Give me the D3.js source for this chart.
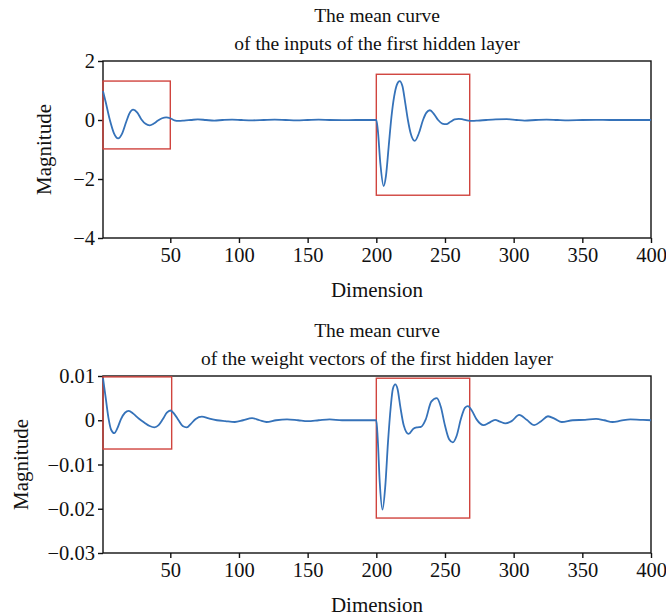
<!DOCTYPE html>
<html>
<head>
<meta charset="utf-8">
<script src="https://cdn.jsdelivr.net/npm/d3@7"></script>
<style>
  html, body { margin: 0; padding: 0; background: #fff; }
  svg text { font-family: "Liberation Serif", "DejaVu Serif", serif; fill: #111; }
</style>
</head>
<body>
<svg id="chart" width="666" height="616"></svg>
<script>
// Mean curve of the inputs of the first hidden layer (dimension, magnitude)
const inputDims = [1, 3, 6, 9, 12, 15, 18, 20, 23, 26, 29, 32, 35, 38, 41, 44, 47, 50, 53, 56, 60, 65, 70, 76, 82, 88, 95, 102, 110, 118, 126, 134, 142, 150, 158, 166, 175, 185, 195, 200,
  201, 203, 205.3, 207, 209, 211, 213, 215, 217, 219, 221, 223, 225, 228, 231, 234, 236.5, 239, 242, 245, 248, 251, 254, 257, 260, 263, 266, 270, 274, 280, 287, 295, 302, 308, 316, 324, 332, 340, 350, 360, 370, 380, 390, 400];
const inputVals = [0.98, 0.6, 0.0, -0.45, -0.62, -0.45, -0.05, 0.2, 0.35, 0.25, 0.02, -0.13, -0.18, -0.12, -0.02, 0.06, 0.09, 0.06, -0.01, -0.03, -0.02, 0.0, 0.02, 0.0, -0.02, 0.0, 0.015, 0.0, -0.01, 0.0, 0.01, 0.0, -0.01, 0.0, 0.01, 0.0, -0.005, 0.0, 0.0, 0.0,
  -0.3, -1.5, -2.24, -1.9, -0.9, 0.1, 0.8, 1.2, 1.32, 1.15, 0.6, 0.0, -0.45, -0.71, -0.45, 0.0, 0.25, 0.33, 0.2, 0.0, -0.12, -0.14, -0.06, 0.02, 0.04, 0.02, -0.01, -0.03, -0.02, 0.0, 0.02, 0.03, 0.0, -0.02, 0.0, 0.015, 0.0, -0.01, 0.0, 0.005, 0.0, 0.0, 0.0, 0.0];

// Mean curve of the weight vectors of the first hidden layer
const weightDims = [1, 3, 5, 7, 9.2, 11.5, 14, 17, 19.7, 23, 27, 31, 35, 38.4, 41.5, 44.5, 47.5, 50, 53, 56, 59, 62, 65, 68.5, 73, 78, 84, 90, 97, 103, 109.5, 115, 120, 127, 135, 143, 150, 158, 166, 175, 185, 200,
  201, 202.5, 204.5, 206.5, 208.5, 210.5, 212, 213.8, 215.5, 217.5, 220, 223.5, 227, 230, 232.5, 236, 240, 244, 247, 250, 253, 255.7, 258.5, 261.5, 264.5, 266.7, 269.5, 273, 278, 282, 286.5, 290, 294, 298.5, 304, 309.5, 315, 320, 325, 330, 335, 343, 352, 360, 366, 372, 378, 385, 392, 400];
const weightVals = [0.0095, 0.005, 0.0005, -0.0022, -0.0029, -0.0018, 0.0002, 0.0017, 0.0021, 0.0015, 0.0004, -0.0005, -0.0013, -0.0016, -0.0011, 0.0002, 0.0017, 0.0022, 0.0014, 0.0, -0.0013, -0.0016, -0.0008, 0.0003, 0.0008, 0.0004, 0.0, -0.0002, -0.0004, 0.0, 0.0005, 0.0, -0.0004, 0.0, 0.0002, 0.0, -0.0002, 0.0, 0.0002, 0.0, 0.0, 0.0,
  -0.004, -0.014, -0.0202, -0.015, -0.005, 0.003, 0.007, 0.0081, 0.007, 0.003, -0.0012, -0.0031, -0.0019, -0.0016, -0.0015, 0.0002, 0.0042, 0.005, 0.003, -0.0012, -0.0043, -0.005, -0.0035, 0.0002, 0.0028, 0.0032, 0.0022, 0.0002, -0.0011, -0.0006, 0.0001, -0.0003, -0.0007, -0.0002, 0.0012, 0.0001, -0.0011, -0.0002, 0.0009, 0.0003, -0.0004, 0.0, 0.0001, 0.0003, 0.0, -0.0004, -0.0001, 0.0002, 0.0001, 0.0];

// Highlighted regions: [x0, x1, y0, y1]
const inputBoxes = [[1, 50, -0.98, 1.32], [200, 268, -2.55, 1.55]];
const weightBoxes = [[1, 51, -0.0065, 0.0098], [200, 268, -0.0221, 0.0095]];

const xTicks = [50, 100, 150, 200, 250, 300, 350, 400];
const inputYTicks = [2, 0, -2, -4];
const weightYTicks = [0.01, 0, -0.01, -0.02, -0.03];

const titles = [
  ["The mean curve", "of the inputs of the first hidden layer"],
  ["The mean curve", "of the weight vectors of the first hidden layer"]
];

const svg = d3.select("#chart");
const lineColor = "#3572b9";
const boxColor = "#d0443e";

function panel(cfg) {
  const g = svg.append("g");
  const x = d3.scaleLinear().domain([1, 400]).range([103, 651]);
  const y = d3.scaleLinear().domain(cfg.yDomain).range([cfg.bottom, cfg.top]);

  // plot frame
  g.append("rect")
    .attr("x", x.range()[0]).attr("y", cfg.top)
    .attr("width", x.range()[1] - x.range()[0])
    .attr("height", cfg.bottom - cfg.top)
    .attr("fill", "none").attr("stroke", "#111").attr("stroke-width", 1.4);

  const xAxis = g.append("g")
    .attr("transform", `translate(0,${cfg.bottom})`)
    .call(d3.axisBottom(x).tickValues(xTicks).tickSize(5).tickPadding(4).tickFormat(d3.format("d")));
  const yAxis = g.append("g")
    .attr("transform", `translate(${x.range()[0]},0)`)
    .call(d3.axisLeft(y).tickValues(cfg.yTicks).tickSize(5).tickPadding(3)
      .tickFormat(d => d === 0 ? "0" : d3.format(cfg.fmt)(d).replace("-", "\u2013")));
  [xAxis, yAxis].forEach(a => {
    a.select(".domain").remove();
    a.selectAll(".tick line").attr("stroke", "#111").attr("stroke-width", 1.4);
    a.selectAll(".tick text").attr("font-size", 20.5).attr("fill", "#111")
      .attr("font-family", "Liberation Serif, serif");
  });

  // highlight boxes
  g.selectAll("rect.box").data(cfg.boxes).join("rect")
    .attr("class", "box")
    .attr("x", d => x(d[0])).attr("y", d => y(d[3]))
    .attr("width", d => x(d[1]) - x(d[0]))
    .attr("height", d => y(d[2]) - y(d[3]))
    .attr("fill", "none").attr("stroke", boxColor).attr("stroke-width", 1.4);

  // curve
  const pts = cfg.dims.map((d, i) => [d, cfg.vals[i]]);
  g.append("path")
    .datum(pts)
    .attr("fill", "none")
    .attr("stroke", lineColor)
    .attr("stroke-width", 1.8)
    .attr("d", d3.line().x(d => x(d[0])).y(d => y(d[1])).curve(d3.curveMonotoneX));

  const cx = (x.range()[0] + x.range()[1]) / 2;
  // titles
  g.append("text").attr("x", cx).attr("y", cfg.top - 39)
    .attr("text-anchor", "middle").attr("font-size", 19.5).text(cfg.title[0]);
  g.append("text").attr("x", cx).attr("y", cfg.top - 11)
    .attr("text-anchor", "middle").attr("font-size", 19.5).text(cfg.title[1]);
  // axis labels
  g.append("text").attr("x", cx).attr("y", cfg.bottom + 59)
    .attr("text-anchor", "middle").attr("font-size", 21).text("Dimension");
  g.append("text")
    .attr("transform", `translate(${cfg.ylabelX},${(cfg.top + cfg.bottom) / 2}) rotate(-90)`)
    .attr("text-anchor", "middle").attr("font-size", 21).text("Magnitude");
}

panel({
  top: 61, bottom: 238, yDomain: [-4, 2], yTicks: inputYTicks, fmt: "d",
  dims: inputDims, vals: inputVals, boxes: inputBoxes, title: titles[0], ylabelX: 51
});
panel({
  top: 376, bottom: 553, yDomain: [-0.03, 0.01], yTicks: weightYTicks, fmt: ".2f",
  dims: weightDims, vals: weightVals, boxes: weightBoxes, title: titles[1], ylabelX: 28
});
</script>
</body>
</html>
